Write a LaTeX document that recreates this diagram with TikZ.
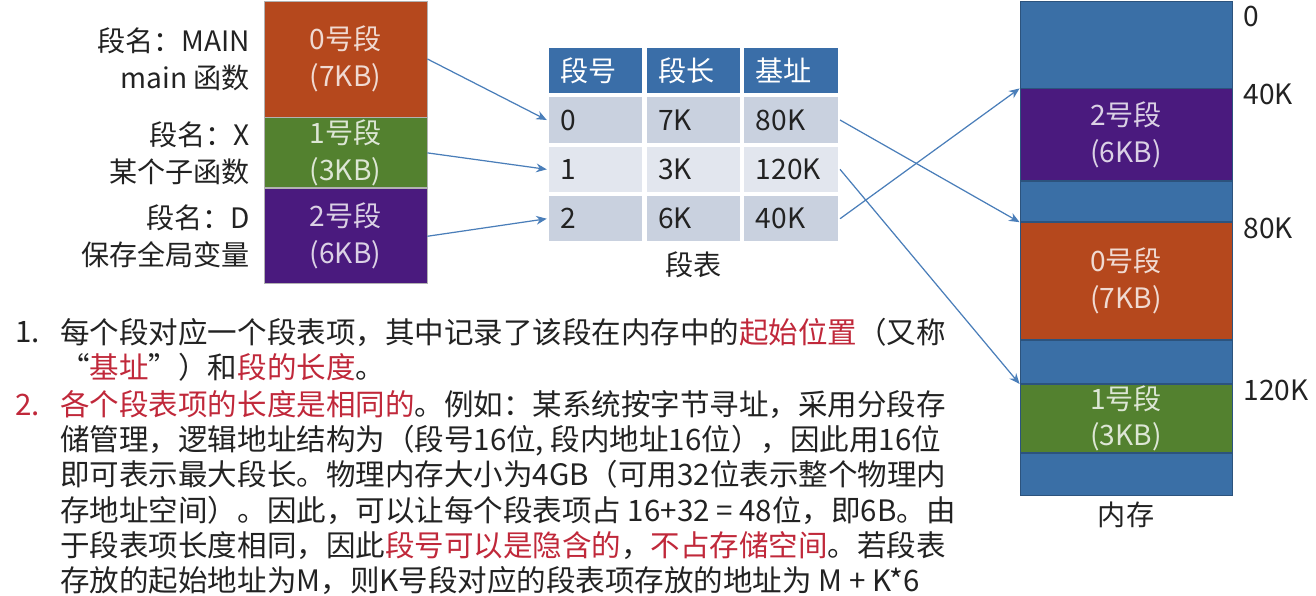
\documentclass[tikz,border=0pt]{standalone}
\usepackage{fontspec}
\setmainfont{Noto Sans CJK SC}
\usepackage{xcolor}
\usepackage{tikz}
\usetikzlibrary{arrows.meta, positioning}

\definecolor{segorange}{HTML}{B5481D}
\definecolor{seggreen}{HTML}{53812F}
\definecolor{segpurple}{HTML}{4A1A7E}
\definecolor{memblue}{HTML}{3A6FA6}
\definecolor{headblue}{HTML}{3A6EA8}
\definecolor{rowdark}{HTML}{C9D1DF}
\definecolor{rowlight}{HTML}{E2E6EE}
\definecolor{linkblue}{HTML}{4A7EB9}
\definecolor{hlred}{HTML}{C0283A}
\definecolor{inktext}{HTML}{222222}

\newcommand{\redtxt}[1]{\textcolor{hlred}{#1}}
\newcommand{\lblfont}{\fontsize{16pt}{21pt}\selectfont}
\newcommand{\bodyfont}{\fontsize{16.8pt}{20pt}\selectfont}

\begin{document}
\begin{tikzpicture}[
  lbl/.style={font=\lblfont, text=inktext, align=center},
  segname/.style={lbl, align=right},
  addr/.style={lbl, yshift=-0.12cm},
  seg/.style={rectangle, draw=gray!60, line width=0.5pt, minimum width=3.26cm,
    inner sep=0pt, align=center, font=\lblfont},
  segor/.style={seg, fill=segorange, text=white!80!segorange},
  seggr/.style={seg, fill=seggreen, text=white!80!seggreen},
  segpu/.style={seg, fill=segpurple, text=white!80!segpurple},
  memfree/.style={rectangle, draw=memblue!75!black, line width=0.5pt,
    fill=memblue, minimum width=4.24cm, inner sep=0pt},
  memor/.style={memfree, fill=segorange, text=white!80!segorange, align=center, font=\lblfont},
  memgr/.style={memfree, fill=seggreen, text=white!80!seggreen, align=center, font=\lblfont},
  mempu/.style={memfree, fill=segpurple, text=white!80!segpurple, align=center, font=\lblfont},
  cell/.style={rectangle, draw=white, line width=1.2pt, minimum width=1.913cm,
    minimum height=0.945cm, text width=1.413cm, inner xsep=0.25cm, inner ysep=0pt,
    align=left, font=\lblfont, text=inktext},
  hcell/.style={cell, fill=headblue, text=white},
  dcell/.style={cell, fill=rowdark},
  lcell/.style={cell, fill=rowlight},
  link/.style={-{Stealth[length=6pt, width=5pt]}, line width=0.7pt, linkblue},
  bodytxt/.style={font=\bodyfont, text=inktext, align=left, inner sep=0pt, anchor=west},
]
\useasboundingbox (0,0) rectangle (26.32,-11.92);
% ====== LOGICAL SEGMENTS ======
\node[segor, minimum height=2.32cm] (seg0) at (6.91,-1.18) {0号段\\(7KB)};
\node[seggr, minimum height=1.4cm, below=0pt of seg0] (seg1) {1号段\\(3KB)};
\node[segpu, minimum height=1.9cm, below=0pt of seg1] (seg2) {2号段\\(6KB)};
\node[segname, left=0.15cm of seg0] (name0) {段名：MAIN\\main 函数};
\node[segname, left=0.15cm of seg1] (name1) {段名：X\\某个子函数};
\node[segname, left=0.15cm of seg2] (name2) {段名：D\\保存全局变量};
%
% ====== SEGMENT TABLE ======
\node[hcell] (h_no) at (11.913,-1.413) {段号};
\node[hcell, right=0pt of h_no] (h_len) {段长};
\node[hcell, right=0pt of h_len] (h_base) {基址};
\node[dcell, below=0pt of h_no] (r0_no) {0};
\node[dcell, right=0pt of r0_no] (r0_len) {7K};
\node[dcell, right=0pt of r0_len] (r0_base) {80K};
\node[lcell, below=0pt of r0_no] (r1_no) {1};
\node[lcell, right=0pt of r1_no] (r1_len) {3K};
\node[lcell, right=0pt of r1_len] (r1_base) {120K};
\node[dcell, below=0pt of r1_no] (r2_no) {2};
\node[dcell, right=0pt of r2_no] (r2_len) {6K};
\node[dcell, right=0pt of r2_len] (r2_base) {40K};
\node[lbl, below=0.05cm of r2_len] (tab_cap) {段表};
%
% ====== PHYSICAL MEMORY ======
\node[memfree, minimum height=1.74cm] (free0) at (22.52,-0.89) {};
\node[mempu, minimum height=1.84cm, below=0pt of free0] (mseg2) {2号段\\(6KB)};
\node[memfree, minimum height=0.8cm, below=0pt of mseg2] (free1) {};
\node[memor, minimum height=2.34cm, below=0pt of free1] (mseg0) {0号段\\(7KB)};
\node[memfree, minimum height=0.86cm, below=0pt of mseg0] (free2) {};
\node[memgr, minimum height=1.36cm, below=0pt of free2] (mseg1) {1号段\\(3KB)};
\node[memfree, minimum height=0.84cm, below=0pt of mseg1] (free3) {};
\node[lbl, below=0pt of free3] (mem_cap) {内存};
\node[addr, right=0.1cm of free0.north east, yshift=-0.2cm] (addr0) {0};
\node[addr, right=0.1cm of mseg2.north east] (addr40) {40K};
\node[addr, right=0.1cm of mseg0.north east] (addr80) {80K};
\node[addr, right=0.1cm of mseg1.north east] (addr120) {120K};
%
% ====== LINKS ======
\draw[link] (seg0.east) -- (r0_no.west);
\draw[link] (seg1.east) -- (r1_no.west);
\draw[link] (seg2.east) -- (r2_no.west);
\draw[link] (r0_base.east) -- (mseg0.north west);
\draw[link] (r1_base.east) -- (mseg1.north west);
\draw[link] (r2_base.east) -- (mseg2.north west);
%
% ====== NOTES ======
\node[bodytxt] (num1) at (0.3,-6.64) {1.};
\node[bodytxt] (item1) at (1.2,-6.99)
  {每个段对应一个段表项，其中记录了该段在内存中的\redtxt{起始位置}（又称\\
   “\redtxt{基址}”）和\redtxt{段的长度}。};
\node[bodytxt, text=hlred] (num2) at (0.3,-8.1) {2.};
\node[bodytxt] (item2) at (1.2,-9.85)
  {\redtxt{各个段表项的长度是相同的}。例如：某系统按字节寻址，采用分段存\\
   储管理，逻辑地址结构为（段号16位, 段内地址16位），因此用16位\\
   即可表示最大段长。物理内存大小为4GB（可用32位表示整个物理内\\
   存地址空间）。因此，可以让每个段表项占 16+32 = 48位，即6B。由\\
   于段表项长度相同，因此\redtxt{段号可以是隐含的}，\redtxt{不占存储空间}。若段表\\
   存放的起始地址为M，则K号段对应的段表项存放的地址为 M + K*6};
\end{tikzpicture}
\end{document}
